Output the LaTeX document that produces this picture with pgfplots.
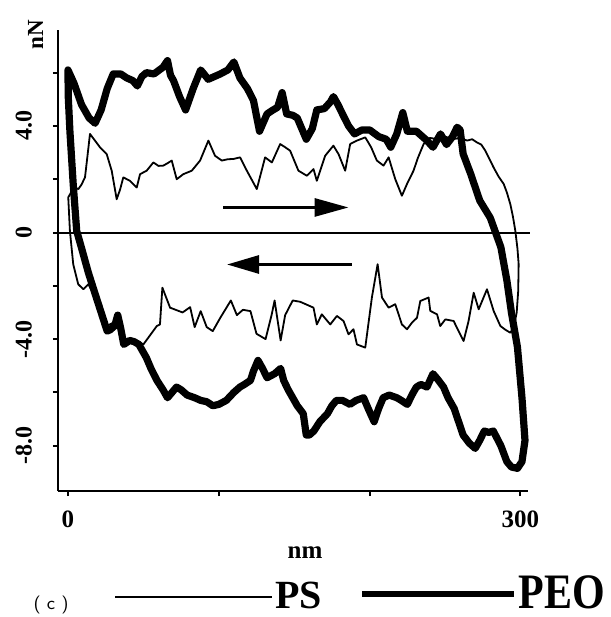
\documentclass[border=0pt]{standalone}
\usepackage{pgfplots}
\pgfplotsset{compat=1.18}
\usepackage{fontspec}
\setmainfont{Liberation Serif}
\usetikzlibrary{arrows.meta}
\pgfplotstableread{
x y
1.5 1.45
4 1.7
6.9 1.63
9 1.8
11.3 2.07
13 2.9
14.6 3.7
17.9 3.45
21.2 3.2
25.7 2.94
29 2.32
32.3 1.25
34.5 1.6
36.7 2.07
41.1 1.94
45.6 1.69
47.8 2.19
52.2 2.32
56.6 2.63
60 2.5
63.2 2.51
66 2.6
68.8 2.7
72.1 2.0
76.5 2.19
82.1 2.32
87.6 2.7
93.1 3.45
97.5 2.88
102 2.7
106 2.75
109.7 2.76
114.1 2.82
118.6 2.32
125.2 1.63
130.7 2.82
135.2 2.63
140.7 3.32
144 3.2
147.3 3.07
152.8 2.32
158.4 2.13
162.8 2.38
165 1.94
170.5 2.88
176 3.26
179.4 2.94
183.8 2.32
187.1 3.32
191.6 3.45
197.1 3.57
201 3.2
204.8 2.7
209.2 2.51
212.6 2.82
217 2.0
221.4 1.38
225 1.85
229.1 2.32
232 2.8
235.8 3.32
240 3.55
245 3.5
250 3.6
255 3.5
260 3.55
264.6 3.45
268 3.5
271.2 3.38
274 3.3
276.7 3.07
279.5 2.75
282.2 2.44
285.5 2.1
288.9 1.82
291 1.5
293.3 1.06
295 0.6
296.6 0.06
298 -0.6
298.8 -1.19
298.5 -2.2
297.5 -3.0
295.5 -3.57
293.3 -3.76
290 -3.65
286.7 -3.51
282.2 -2.94
277.8 -2.13
272.3 -2.88
269 -2.26
265.6 -3.32
262.3 -4.07
259 -3.7
255.7 -3.32
250.2 -3.26
246.8 -3.51
244.7 -3.07
240.2 -2.94
239.1 -2.44
233.6 -2.57
231.4 -3.2
228.1 -3.38
224.8 -3.63
221.4 -3.45
217 -2.69
212.6 -2.82
208.2 -2.44
205.3 -1.19
201.5 -2.44
197.1 -4.32
191.6 -4.2
189.3 -3.63
186 -3.82
182.7 -3.32
178.3 -3.13
173.9 -3.45
168.3 -3.07
165 -3.45
162.8 -2.82
158 -2.7
154 -2.6
149 -2.55
144 -3.1
141 -4.05
137 -2.55
135 -3.1
131 -4.0
125 -3.8
121 -2.95
116 -2.9
112 -3.1
108 -2.55
101 -3.2
96 -3.7
92 -3.55
88 -2.95
84 -3.55
81 -2.8
76 -3.0
67.7 -2.82
62.6 -2.07
61 -3.45
58.9 -3.51
50 -4.2
47 -4.1
42 -4.0
37 -4.0
33 -3.3
26 -3.5
20 -2.7
16 -2.2
13.5 -1.94
10.2 -2.13
6.8 -1.94
3.5 -1.19
1.3 0.06
0.2 1.32
1.5 1.45
}\PS
\pgfplotstableread{
x y
0 6.1
4 5.6
9 4.8
14 4.3
18 4.1
22 4.6
26 5.4
30 5.95
35 5.95
39 5.8
43 5.7
46 5.5
49 5.85
52 6.0
57 5.95
63 6.2
66 6.45
68 5.9
70 5.7
74 5.1
78 4.6
83 5.4
88 6.1
93 5.75
97 5.85
101 5.95
106 6.1
110 6.4
114 5.8
119 5.4
123 4.95
127 3.8
132 4.45
136 4.6
139 4.7
142 5.25
145 4.45
149 4.4
152 4.3
155 3.9
158 3.5
162 3.9
165 4.6
170 4.65
174 4.9
176 5.1
179 4.8
182 4.45
186 4.0
190 3.7
195 3.85
200 3.85
206 3.6
211 3.5
214 3.2
218 3.7
222 4.5
225 3.8
231 3.8
235 3.6
238 3.45
242 3.2
247 3.7
251 3.3
255 3.6
258 3.95
260 3.85
262 2.95
267 2.2
273 1.2
280 0.55
287 -0.55
291 -1.8
294 -3.0
298 -4.3
301 -6.2
303 -7.8
301 -8.6
298 -8.85
294 -8.8
291 -8.6
287 -8.0
282 -7.45
279 -7.5
276 -7.45
273 -7.8
270 -8.1
266 -7.9
262 -7.6
259 -7.1
256 -6.6
252 -6.2
249 -5.8
245 -5.5
242 -5.3
238 -5.8
234 -5.7
231 -5.8
228 -6.1
225 -6.45
221 -6.3
218 -6.2
213 -6.1
209 -6.2
206 -6.6
203 -7.1
199 -6.6
196 -6.2
191 -6.3
187 -6.45
182 -6.3
178 -6.3
175 -6.5
172 -6.8
167 -7.1
163 -7.45
160 -7.6
158 -7.6
156 -6.8
152 -6.5
149 -6.2
146 -5.9
143 -5.55
141 -5.1
137 -5.3
132 -5.45
129 -5.1
126 -4.8
123 -5.2
121 -5.55
117 -5.7
114 -5.8
110 -6.0
105 -6.3
100 -6.45
96 -6.5
92 -6.35
88 -6.3
84 -6.2
79 -6.1
75 -5.9
72 -5.8
69 -6.0
66 -6.2
63 -5.9
59 -5.55
55 -5.1
52 -4.7
47 -4.2
44 -4.1
41 -4.05
37 -4.2
35 -3.6
33 -3.1
31 -3.5
28 -3.65
26 -3.7
22 -3.0
18 -2.3
13.5 -1.5
9.1 -0.6
5.8 0.06
3.5 1.8
1.3 3.8
0.2 5.1
0 6.1
}\PEO
\begin{document}
\begin{tikzpicture}[x=1pt,y=1pt]
\path[use as bounding box] (-29,-63) rectangle (276.5,245.5);
\begin{axis}[
  at={(0,0)}, anchor=south west,
  scale only axis, width=235pt, height=230.5pt,
  xmin=-6.6, xmax=305, ymin=-9.7, ymax=7.6,
  axis lines=left, axis line style={-, line width=1pt},
  tick align=outside, major tick length=2.5pt,
  tick style={line width=1pt, black},
  xtick={0,100,200,300}, xticklabels={0,,,300},
  ytick={-8,-6,-4,-2,0,2,4,6},
  yticklabels={-8.0,,-4.0,,0,,4.0,},
  xticklabel style={font=\fontsize{12.5}{12.5}\selectfont\bfseries},
  xticklabel shift=4pt,
  yticklabel style={rotate=90, anchor=south, font=\fontsize{12}{12}\selectfont\bfseries},
  yticklabel shift=7pt,
  clip=false,
]
\addplot[line width=0.9pt, black, line join=round] table {\PS};
\addplot[line width=3.6pt, black, line join=round, line cap=round] table {\PEO};
\draw[line width=1pt] (axis cs:-6.6,0) -- (axis cs:306,0);
\draw[line width=1.5pt, -{Triangle[length=17pt,width=9pt]}] (axis cs:103,0.94) -- (axis cs:186,0.94);
\draw[line width=1.5pt, -{Triangle[length=16pt,width=9pt]}] (axis cs:188,-1.2) -- (axis cs:105.5,-1.2);
\end{axis}
\node[rotate=90, font=\fontsize{11.5}{11.5}\selectfont\bfseries] at (-11.25,228) {nN};
\node[font=\fontsize{12.5}{12.5}\selectfont\bfseries] at (123.5,-31) {nm};
\node[font=\fontsize{9}{9}\selectfont\sffamily] at (-3.5,-57) {( c )};
\draw[line width=1.2pt] (28.5,-53) -- (107,-53);
\node[anchor=base west, inner sep=0pt, font=\fontsize{20}{20}\selectfont\bfseries] at (108.5,-58.6) {PS};
\draw[line width=3.3pt] (152,-51.5) -- (228,-51.5);
\node[anchor=base west, inner sep=0pt, yscale=1.18, font=\fontsize{21}{21}\selectfont\bfseries] at (230,-58.6) {PEO};
\end{tikzpicture}
\end{document}
